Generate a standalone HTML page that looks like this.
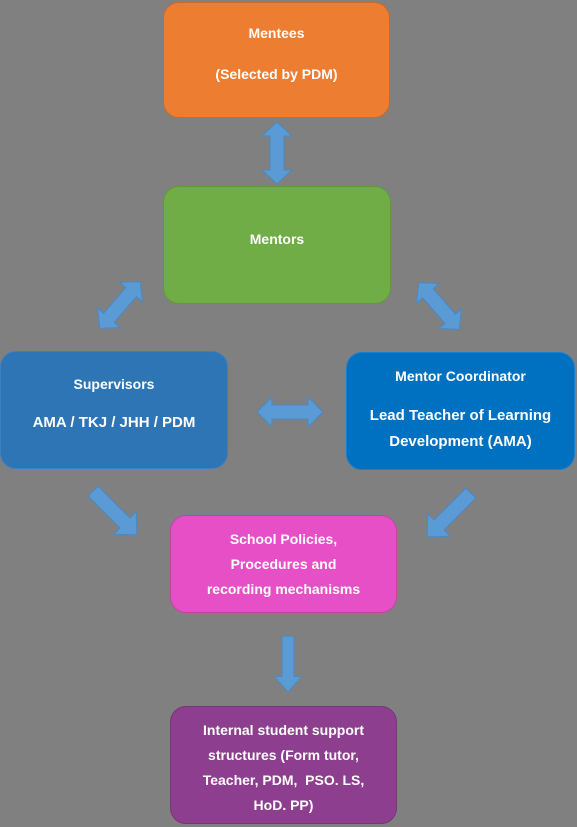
<!DOCTYPE html>
<html><head><style>
body{margin:0;width:577px;height:827px;background:#808080;position:relative;overflow:hidden;font-family:"Liberation Sans",sans-serif;}
.b{position:absolute;border-radius:16px;color:#fff;font-weight:bold;font-size:14px;text-align:center;display:flex;flex-direction:column;justify-content:center;box-sizing:border-box;line-height:24px;}
svg{position:absolute;left:0;top:0}
</style></head><body>
<svg width="577" height="827">
<defs>
<polygon id="d" points="-31,0 -17,-15 -17,-7 17,-7 17,-15 31,0 17,15 17,7 -17,7 -17,15" fill="#5b9bd5" stroke="#4a88c4" stroke-width="1"/>
<polygon id="s" points="-31,-7 14,-7 14,-16 31,0 14,16 14,7 -31,7" fill="#5b9bd5" stroke="#4a88c4" stroke-width="1"/>
</defs>
<use href="#d" transform="translate(277,153) rotate(90)"/>
<use href="#d" transform="translate(290,412) scale(1.06,1)"/>
<use href="#d" transform="translate(120,305) rotate(-49)"/>
<use href="#d" transform="translate(439,306) rotate(49)"/>
<use href="#s" transform="translate(115,513) rotate(45)"/>
<use href="#s" transform="translate(449,515) rotate(135)"/>
<use href="#s" transform="translate(288,664) rotate(90) scale(0.9,0.85)"/>
</svg>
<div class="b" style="left:163px;top:2px;width:227px;height:116px;background:#ed7d31;border:1px solid #c86a2a;justify-content:flex-start;padding-top:18px;">Mentees<br><span style="margin-top:17px">(Selected by PDM)</span></div>
<div class="b" style="left:163px;top:186px;width:228px;height:118px;background:#70ad47;border:1px solid #5e9a3a;padding-bottom:12px;">Mentors</div>
<div class="b" style="left:0px;top:351px;width:228px;height:118px;background:#2e75b6;border:1px solid #3d80c0;justify-content:flex-start;padding-top:20px;">Supervisors<br><span style="margin-top:15px;font-size:15px">AMA / TKJ / JHH / PDM</span></div>
<div class="b" style="left:346px;top:352px;width:229px;height:118px;background:#0070c0;border:1px solid #1a7fcb;line-height:26px;font-size:15px;justify-content:flex-start;padding-top:10px;"><span style="font-size:14px">Mentor Coordinator</span><span style="margin-top:14px">Lead Teacher of Learning<br>Development (AMA)</span></div>
<div class="b" style="left:170px;top:515px;width:227px;height:98px;background:#e64fc6;border:1px solid #c143a8;line-height:25px;">School Policies,<br>Procedures and<br>recording mechanisms</div>
<div class="b" style="left:170px;top:706px;width:227px;height:118px;background:#8e3e8e;border:1px solid #7a347a;line-height:25px;padding-top:6px;">Internal student support<br>structures (Form tutor,<br>Teacher, PDM,&nbsp; PSO. LS,<br>HoD. PP)</div>
</body></html>
